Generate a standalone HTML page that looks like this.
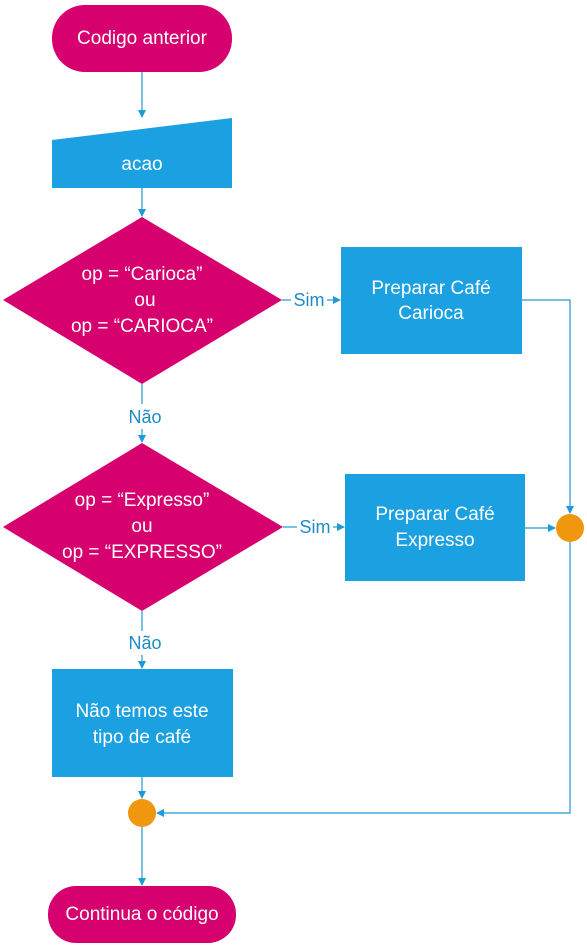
<!DOCTYPE html>
<html><head><meta charset="utf-8"><style>html,body{margin:0;padding:0;background:#fff}svg{display:block}</style></head>
<body>
<svg width="587" height="946" viewBox="0 0 587 946" xmlns="http://www.w3.org/2000/svg" font-family="Liberation Sans, sans-serif">
<defs><marker id="a" markerWidth="8" markerHeight="8" refX="7" refY="4" orient="auto" markerUnits="userSpaceOnUse"><path d="M0,0 L8,4 L0,8 z" fill="#1E9AD6"/></marker></defs>
<g stroke="#1E9AD6" stroke-width="1.2" fill="none">
<line x1="142" y1="72" x2="142" y2="117" marker-end="url(#a)"/>
<line x1="142" y1="188" x2="142" y2="216" marker-end="url(#a)"/>
<line x1="282" y1="300" x2="291" y2="300"/>
<line x1="327" y1="300" x2="340" y2="300" marker-end="url(#a)"/>
<polyline points="522,300 570,300 570,513" marker-end="url(#a)"/>
<line x1="142" y1="384" x2="142" y2="404"/>
<line x1="142" y1="429" x2="142" y2="442" marker-end="url(#a)"/>
<line x1="283" y1="527" x2="297" y2="527"/>
<line x1="333" y1="527" x2="344" y2="527" marker-end="url(#a)"/>
<line x1="525" y1="528" x2="555" y2="528" marker-end="url(#a)"/>
<line x1="142" y1="611" x2="142" y2="631"/>
<line x1="142" y1="655" x2="142" y2="668" marker-end="url(#a)"/>
<line x1="142" y1="777" x2="142" y2="798" marker-end="url(#a)"/>
<polyline points="570,542 570,813 157,813" marker-end="url(#a)"/>
<line x1="142" y1="827" x2="142" y2="885" marker-end="url(#a)"/>
</g>
<rect x="52" y="5" width="180" height="67" rx="33" fill="#D6006F"/>
<polygon points="52,140 232,118 232,188 52,188" fill="#1BA1E2"/>
<polygon points="142,217 282,300 142,384 3,300" fill="#D6006F"/>
<rect x="341" y="247" width="181" height="107" fill="#1BA1E2"/>
<polygon points="142,443 283,527 142,611 3,527" fill="#D6006F"/>
<rect x="345" y="474" width="180" height="107" fill="#1BA1E2"/>
<rect x="52" y="669" width="181" height="108" fill="#1BA1E2"/>
<circle cx="570" cy="528" r="14" fill="#F0960F"/>
<circle cx="142" cy="813" r="14" fill="#F0960F"/>
<rect x="48" y="886" width="188" height="57" rx="28" fill="#D6006F"/>
<g fill="#fff" font-size="19" text-anchor="middle">
<text x="142" y="44">Codigo anterior</text>
<text x="142" y="170">acao</text>
<text x="142" y="280">op = “Carioca”</text>
<text x="145" y="306">ou</text>
<text x="142" y="332">op  = “CARIOCA”</text>
<text x="431" y="294">Preparar Café</text>
<text x="431" y="319">Carioca</text>
<text x="142" y="506">op = “Expresso”</text>
<text x="142" y="532">ou</text>
<text x="142" y="558">op = “EXPRESSO”</text>
<text x="435" y="520">Preparar Café</text>
<text x="435" y="546">Expresso</text>
<text x="142" y="717">Não temos este</text>
<text x="142" y="743">tipo de café</text>
<text x="142" y="920">Continua o código</text>
</g>
<g fill="#1E8AC6" font-size="18" text-anchor="middle">
<text x="309" y="306">Sim</text>
<text x="315" y="533">Sim</text>
<text x="145" y="423">Não</text>
<text x="145" y="649">Não</text>
</g>
</svg>
</body></html>
